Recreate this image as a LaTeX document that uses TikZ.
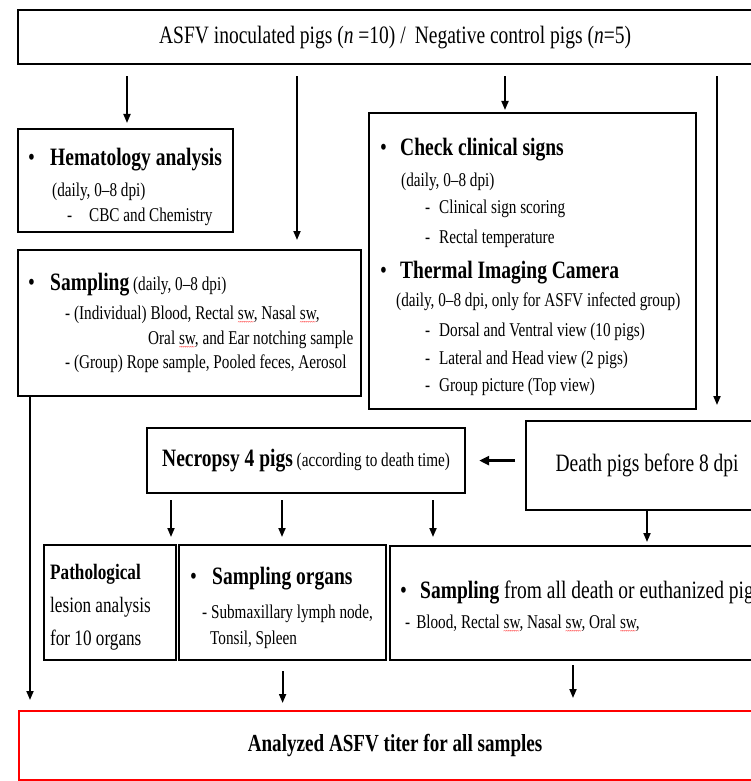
\documentclass[tikz,border=0pt]{standalone}
\usepackage{fontspec}
\setmainfont{Liberation Serif}[FakeStretch=0.78]
\usetikzlibrary{arrows.meta}

\newcommand{\bigtxt}{\fontsize{25}{30}\selectfont}
\newcommand{\subtxt}{\fontsize{19.5}{26}\selectfont}
\newcommand{\wav}{\textasciitilde\kern-0.8pt}
\newcommand{\sw}{\makebox[0pt][l]{\raisebox{-5pt}{\color{red}\fontsize{7}{7}\selectfont\wav\wav\wav\wav\wav\wav\wav}}sw}
\newcommand{\bul}{\makebox[22pt][l]{\bigtxt\textbullet}}
\newcommand{\dsh}{\makebox[14pt][l]{-}}
\newcommand{\topstrut}{\rule{0pt}{20pt}}

\begin{document}
\begin{tikzpicture}[x=1pt, y=-1pt,
    box/.style={draw, line width=2.2pt, inner sep=0pt, anchor=north west},
    txt/.style={inner sep=0pt, anchor=north west, align=left},
    arr/.style={line width=1.8pt, -{Triangle[length=9pt,width=7pt]}}]
    \useasboundingbox (0,0) rectangle (751,781);
    \clip (0,0) rectangle (751,781);
    % boxes
    \node[box, minimum width=754, minimum height=54, font=\bigtxt] (inoc) at (17,9)
        {ASFV inoculated pigs (\textit{n} =10) /\, Negative control pigs (\textit{n}=5)};
    \node[box, minimum width=215, minimum height=103] (hema) at (17,128) {};
    \node[box, minimum width=343, minimum height=146] (samp) at (17,249) {};
    \node[box, minimum width=327, minimum height=296] (clin) at (368,112) {};
    \node[box, minimum width=318, minimum height=65, font=\subtxt] (necro) at (146,427)
        {{\bigtxt\bfseries Necropsy 4 pigs} (according to death time)};
    \node[box, minimum width=242, minimum height=89, font=\bigtxt] (death) at (525,420)
        {Death pigs before 8 dpi};
    \node[box, minimum width=132, minimum height=115] (patho) at (43,544) {};
    \node[box, minimum width=207, minimum height=115] (organs) at (178,544) {};
    \node[box, minimum width=461, minimum height=114] (samp3) at (389,545) {};
    \node[box, draw=red, minimum width=752, minimum height=69, font=\fontsize{24.5}{30}\selectfont\bfseries] (red) at (18,710)
        {Analyzed ASFV titer for all samples};
    % box texts
    \node[txt, font=\fontsize{19.5}{25}\selectfont] (hematxt) at (17,145.5)
        {\topstrut\hspace*{11pt}\bul{\bigtxt\bfseries Hematology analysis}\\[6pt]
         \hspace*{35pt}(daily, 0--8 dpi)\\
         \hspace*{50pt}\makebox[22pt][l]{-}CBC and Chemistry};
    \node[txt, font=\fontsize{19.5}{24.5}\selectfont] (samptxt) at (17,270.5)
        {\topstrut\hspace*{11pt}\bul{\bigtxt\bfseries Sampling} (daily, 0--8 dpi)\\[4.5pt]
         \hspace*{48pt}- (Individual) Blood, Rectal \sw, Nasal \sw,\\
         \hspace*{131pt}Oral \sw, and Ear notching sample\\
         \hspace*{48pt}- (Group) Rope sample, Pooled feces, Aerosol};
    \node[txt, font=\fontsize{19.5}{28}\selectfont] (clintxt) at (368,135.5)
        {\topstrut\hspace*{12pt}\makebox[20pt][l]{\bigtxt\textbullet}{\bigtxt\bfseries Check clinical signs}\\[3pt]
         \hspace*{33pt}(daily, 0--8 dpi)\\[-1pt]
         \hspace*{57pt}\dsh Clinical sign scoring\\[2pt]
         \hspace*{57pt}\dsh Rectal temperature\\[7pt]
         \hspace*{12pt}\makebox[20pt][l]{\bigtxt\textbullet}{\bigtxt\bfseries Thermal Imaging Camera}\\[0pt]
         \hspace*{28pt}(daily, 0--8 dpi, only for ASFV infected group)\\[2pt]
         \hspace*{57pt}\dsh Dorsal and Ventral view (10 pigs)\\
         \hspace*{57pt}\dsh Lateral and Head view (2 pigs)\\[-1pt]
         \hspace*{57pt}\dsh Group picture (Top view)};
    \node[txt, font=\fontsize{22}{33}\selectfont] (pathotxt) at (43,559)
        {\topstrut\hspace*{7pt}\textbf{Pathological}\\
         \hspace*{7pt}lesion analysis\\
         \hspace*{7pt}for 10 organs};
    \node[txt, font=\fontsize{19.5}{26.5}\selectfont] (organstxt) at (178,564.5)
        {\topstrut\hspace*{12pt}\bul{\bigtxt\bfseries Sampling organs}\\[7pt]
         \hspace*{24pt}- Submaxillary lymph node,\\
         \hspace*{32pt}Tonsil, Spleen};
    \node[txt, font=\fontsize{19.5}{29.5}\selectfont] (samp3txt) at (389,578.5)
        {\topstrut\hspace*{11pt}\makebox[20pt][l]{\bigtxt\textbullet}{\bigtxt\textbf{Sampling} from all death or euthanized pigs}\\
         \hspace*{16pt}-\hspace{6pt}Blood, Rectal \sw, Nasal \sw, Oral \sw,};
    % arrows
    \coordinate (cA) at (127,0);
    \coordinate (cB) at (297,0);
    \coordinate (cC) at (505,0);
    \coordinate (cD) at (717,0);
    \coordinate (cL) at (30,0);
    \coordinate (cE) at (647,0);
    \coordinate (cF) at (573,0);
    \draw[arr, shorten <=11pt, shorten >=5pt] (inoc.south -| cA) -- (hema.north -| cA);
    \draw[arr, shorten <=11pt, shorten >=9pt] (inoc.south -| cB) -- (samp.north -| cB);
    \draw[arr, shorten <=11pt, shorten >=2pt] (inoc.south -| cC) -- (clin.north -| cC);
    \draw[arr, shorten <=11pt, shorten >=15pt] (inoc.south -| cD) -- (death.north -| cD);
    \draw[arr, shorten >=10pt] (samp.south -| cL) -- (red.north -| cL);
    \draw[arr, line width=3pt, -{Triangle[length=10pt,width=9pt]}, shorten <=10pt, shorten >=13pt] (death.west |- necro.east) -- (necro.east);
    \foreach \x in {171,282,433}
        \draw[arr, shorten <=6pt, shorten >=7pt] (necro.south -| \x,0) -- (patho.north -| \x,0);
    \draw[arr, shorten >=3pt] (death.south -| cE) -- (samp3.north -| cE);
    \draw[arr, shorten <=10pt, shorten >=7pt] (organs.south) -- (organs.south |- red.north);
    \draw[arr, shorten <=4pt, shorten >=12pt] (samp3.south -| cF) -- (red.north -| cF);
\end{tikzpicture}
\end{document}
